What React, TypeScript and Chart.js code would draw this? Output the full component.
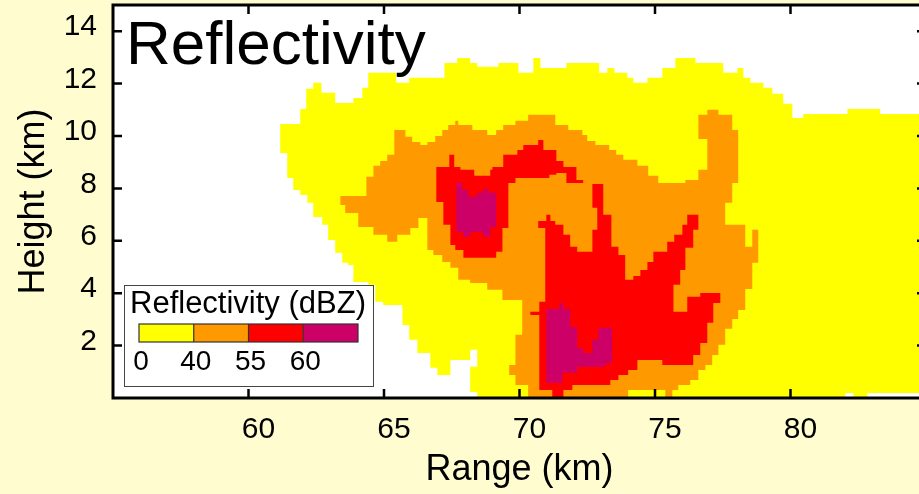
import React, { useEffect, useRef } from "react";
import { Chart, registerables } from "chart.js";

Chart.register(...registerables);

type Pt = [number, number];

const FONT = "'Liberation Sans', Arial, Helvetica, sans-serif";

// Axes
const rangeLimits = [55, 85];
const heightLimits = [0, 15];
const rangeTicks = [60, 65, 70, 75, 80];
const heightTicks = [2, 4, 6, 8, 10, 12, 14];

// Legend (lower bound of each reflectivity class, dBZ)
const levelLabels = ["0", "40", "55", "60"];
const levelColors = ["#FFFF00", "#FF9900", "#FF0000", "#CC0066"];

// Contour outlines [range km, height km]
const echo0dBZ: Pt[] = [
  [61.17, 10.46], [61.91, 10.46], [61.91, 11.03], [62.13, 11.03], [62.13, 11.8], [62.39, 11.8], [62.39, 12.03],
  [62.69, 12.03], [62.69, 11.65], [63.2, 11.65], [63.2, 11.26], [63.87, 11.26], [63.87, 11.45], [64.2, 11.45],
  [64.2, 11.84], [64.42, 11.84], [64.42, 12.41], [65.45, 12.41], [65.45, 12.03], [65.93, 12.03], [65.93, 12.22],
  [67.23, 12.22], [67.23, 12.79], [67.7, 12.79], [67.7, 12.98], [68.18, 12.98], [68.18, 12.79], [68.44, 12.79],
  [68.44, 12.64], [69.22, 12.64], [69.22, 12.79], [69.96, 12.79], [69.96, 12.41], [70.51, 12.41], [70.51, 12.98],
  [70.77, 12.98], [70.77, 12.6], [71.73, 12.6], [71.73, 12.79], [72.94, 12.79], [72.94, 12.41], [73.24, 12.41],
  [73.24, 12.6], [73.5, 12.6], [73.5, 12.41], [73.98, 12.41], [73.98, 12.22], [74.2, 12.22], [74.2, 12.03],
  [74.72, 12.03], [74.72, 12.22], [75.27, 12.22], [75.27, 12.6], [75.75, 12.6], [75.75, 12.98], [76.49, 12.98],
  [76.49, 12.79], [77.52, 12.79], [77.52, 12.41], [78.04, 12.41], [78.04, 12.6], [78.26, 12.6], [78.26, 12.22],
  [78.52, 12.22], [78.52, 12.03], [79.0, 12.03], [79.0, 11.84], [79.33, 11.84], [79.33, 11.61], [79.73, 11.61],
  [79.73, 11.23], [80.07, 11.23], [80.07, 10.69], [80.47, 10.69], [80.47, 10.84], [82.1, 10.84], [82.1, 11.03],
  [83.31, 11.03], [83.31, 10.84], [86, 10.84], [86, 0.19], [82.83, 0.19], [82.83, -0.5], [82.32, -0.5],
  [82.32, 0.19], [82.02, 0.19], [82.02, -0.5], [68.44, -0.5], [68.44, 0.23], [68.18, 0.23], [68.18, 1.19],
  [68.44, 1.19], [68.44, 1.84], [68.18, 1.84], [68.18, 1.45], [67.45, 1.45], [67.45, 0.88], [66.97, 0.88],
  [66.97, 1.15], [66.71, 1.15], [66.71, 1.72], [66.23, 1.72], [66.23, 2.22], [65.93, 2.22], [65.93, 2.79],
  [65.68, 2.79], [65.68, 3.55], [64.97, 3.55], [64.97, 3.67], [64.68, 3.67], [64.68, 4.32], [64.42, 4.32],
  [64.42, 4.43], [63.87, 4.43], [63.87, 5.08], [63.68, 5.08], [63.68, 5.16], [63.46, 5.16], [63.46, 5.54],
  [63.2, 5.54], [63.2, 6.03], [62.94, 6.03], [62.94, 6.61], [62.72, 6.61], [62.72, 6.91], [62.39, 6.91],
  [62.39, 7.45], [62.17, 7.45], [62.17, 7.75], [61.91, 7.75], [61.91, 7.94], [61.65, 7.94], [61.65, 8.4],
  [61.43, 8.4], [61.43, 9.35], [61.17, 9.35],
];

const echo40dBZ: Pt[] = [
  [63.39, 7.71], [64.35, 7.71], [64.35, 8.44], [64.61, 8.44], [64.61, 8.86], [64.86, 8.86], [64.86, 9.05],
  [65.12, 9.05], [65.12, 9.28], [65.38, 9.28], [65.38, 10.23], [65.79, 10.23], [65.79, 9.97], [66.04, 9.97],
  [66.04, 9.77], [66.34, 9.77], [66.34, 9.66], [66.6, 9.66], [66.6, 9.77], [66.89, 9.77], [66.89, 10.0],
  [67.15, 10.0], [67.15, 10.23], [67.37, 10.23], [67.37, 10.42], [67.63, 10.42], [67.63, 10.58], [67.74, 10.58],
  [67.74, 10.42], [68.26, 10.42], [68.26, 10.23], [68.81, 10.23], [68.81, 10.04], [69.14, 10.04], [69.14, 10.23],
  [69.4, 10.23], [69.4, 10.42], [69.85, 10.42], [69.85, 10.58], [70.32, 10.58], [70.32, 10.81], [71.32, 10.81],
  [71.32, 10.42], [71.8, 10.42], [71.8, 10.23], [72.32, 10.23], [72.32, 10.04], [72.5, 10.04], [72.5, 9.81],
  [72.8, 9.81], [72.8, 9.66], [73.31, 9.66], [73.31, 9.47], [73.57, 9.47], [73.57, 9.28], [73.83, 9.28],
  [73.83, 9.09], [74.35, 9.09], [74.35, 8.86], [74.75, 8.86], [74.75, 8.48], [75.12, 8.48], [75.12, 8.21],
  [76.12, 8.21], [76.12, 8.32], [76.6, 8.32], [76.6, 8.71], [76.93, 8.71], [76.93, 9.89], [76.6, 9.89],
  [76.6, 10.81], [76.93, 10.81], [76.93, 11.0], [77.34, 11.0], [77.34, 10.81], [77.85, 10.81], [77.85, 10.23],
  [78.07, 10.23], [78.07, 8.21], [77.85, 8.21], [77.85, 7.45], [77.59, 7.45], [77.59, 6.61], [78.33, 6.61],
  [78.33, 5.77], [78.59, 5.77], [78.59, 6.42], [78.81, 6.42], [78.81, 5.16], [78.59, 5.16], [78.59, 4.16],
  [78.33, 4.16], [78.33, 3.36], [78.07, 3.36], [78.07, 3.02], [77.85, 3.02], [77.85, 2.64], [77.59, 2.64],
  [77.59, 2.03], [77.34, 2.03], [77.34, 1.64], [77.11, 1.64], [77.11, 1.26], [76.86, 1.26], [76.86, 1.07],
  [76.6, 1.07], [76.6, 0.69], [76.3, 0.69], [76.3, 0.5], [75.86, 0.5], [75.86, 0.31], [75.64, 0.31],
  [75.64, -0.5], [75.38, -0.5], [75.38, 0.31], [74.01, 0.31], [74.01, -0.5], [70.32, -0.5], [70.32, 0.5],
  [69.85, 0.5], [69.85, 0.88], [69.62, 0.88], [69.62, 1.26], [69.85, 1.26], [69.85, 2.41], [70.1, 2.41],
  [70.1, 3.74], [69.37, 3.74], [69.37, 4.13], [68.81, 4.13], [68.81, 4.39], [68.18, 4.39], [68.18, 4.51],
  [67.74, 4.51], [67.74, 4.97], [67.45, 4.97], [67.45, 5.19], [67.15, 5.19], [67.15, 5.46], [66.82, 5.46],
  [66.82, 5.65], [66.6, 5.65], [66.6, 6.87], [66.27, 6.87], [66.27, 6.49], [65.97, 6.49], [65.97, 6.23],
  [65.49, 6.23], [65.49, 5.96], [65.12, 5.96], [65.12, 6.23], [64.61, 6.23], [64.61, 6.53], [64.05, 6.53],
  [64.05, 7.06], [63.57, 7.06], [63.57, 7.37], [63.39, 7.37],
];

const echo55dBZUpper: Pt[] = [
  [67.41, 9.28], [67.59, 9.28], [67.59, 8.82], [67.82, 8.82], [67.82, 8.71], [68.33, 8.71], [68.33, 8.48],
  [68.92, 8.48], [68.92, 8.71], [69.0, 8.71], [69.0, 8.82], [69.4, 8.82], [69.4, 9.28], [69.92, 9.28],
  [69.92, 9.47], [70.14, 9.47], [70.14, 9.66], [70.69, 9.66], [70.69, 9.85], [70.88, 9.85], [70.88, 9.47],
  [71.36, 9.47], [71.36, 9.05], [71.62, 9.05], [71.62, 8.82], [72.1, 8.82], [72.1, 8.32], [72.35, 8.32],
  [72.35, 8.21], [71.73, 8.21], [71.73, 8.59], [71.36, 8.59], [71.36, 8.52], [71.1, 8.52], [71.1, 8.4],
  [69.85, 8.4], [69.85, 8.21], [69.59, 8.21], [69.59, 6.49], [69.37, 6.49], [69.37, 5.58], [69.14, 5.58],
  [69.14, 5.35], [67.93, 5.35], [67.93, 5.65], [67.63, 5.65], [67.63, 5.84], [67.45, 5.84], [67.45, 6.61],
  [67.19, 6.61], [67.19, 7.48], [66.93, 7.48], [66.93, 8.82], [67.41, 8.82],
];

const echo55dBZLower: Pt[] = [
  [72.69, 8.17], [73.09, 8.17], [73.09, 6.99], [73.39, 6.99], [73.39, 5.77], [73.65, 5.77], [73.65, 5.46],
  [73.9, 5.46], [73.9, 4.51], [74.2, 4.51], [74.2, 4.66], [74.46, 4.66], [74.46, 4.89], [74.72, 4.89],
  [74.72, 5.19], [74.94, 5.19], [74.94, 5.58], [75.45, 5.58], [75.45, 5.96], [75.71, 5.96], [75.71, 6.23],
  [76.01, 6.23], [76.01, 6.61], [76.19, 6.61], [76.19, 6.99], [76.6, 6.99], [76.6, 6.42], [76.41, 6.42],
  [76.41, 5.73], [76.12, 5.73], [76.12, 4.89], [75.93, 4.89], [75.93, 4.32], [75.68, 4.32], [75.68, 3.29],
  [76.19, 3.29], [76.19, 3.86], [76.67, 3.86], [76.67, 4.01], [77.41, 4.01], [77.41, 3.63], [77.15, 3.63],
  [77.15, 2.87], [76.93, 2.87], [76.93, 2.1], [76.67, 2.1], [76.67, 1.64], [76.41, 1.64], [76.41, 1.26],
  [75.27, 1.26], [75.27, 1.45], [74.35, 1.45], [74.35, 1.07], [74.01, 1.07], [74.01, 0.88], [73.65, 0.88],
  [73.65, 0.69], [73.35, 0.69], [73.35, 0.5], [71.95, 0.5], [71.95, 0.31], [71.62, 0.31], [71.62, -0.5],
  [71.21, -0.5], [71.21, 0.31], [70.73, 0.31], [70.73, 3.17], [70.4, 3.17], [70.4, 3.29], [70.73, 3.29],
  [70.73, 3.67], [70.95, 3.67], [70.95, 6.49], [70.69, 6.49], [70.69, 6.76], [70.99, 6.76], [70.99, 6.99],
  [71.14, 6.99], [71.14, 6.76], [71.32, 6.76], [71.32, 6.61], [71.62, 6.61], [71.62, 6.23], [71.87, 6.23],
  [71.87, 5.77], [72.13, 5.77], [72.13, 5.58], [72.69, 5.58], [72.69, 6.42], [72.87, 6.42], [72.87, 7.26],
  [72.69, 7.26],
];

const echo60dBZUpper: Pt[] = [
  [67.67, 8.21], [67.89, 8.21], [67.89, 7.94], [68.11, 7.94], [68.11, 7.68], [68.44, 7.68], [68.44, 7.83],
  [68.66, 7.83], [68.66, 7.98], [68.85, 7.98], [68.85, 7.83], [69.14, 7.83], [69.14, 6.53], [68.92, 6.53],
  [68.92, 6.15], [68.66, 6.15], [68.66, 6.34], [68.18, 6.34], [68.18, 6.15], [67.93, 6.15], [67.93, 6.34],
  [67.67, 6.34],
];

const echo60dBZLower: Pt[] = [
  [70.99, 3.4], [71.47, 3.4], [71.47, 3.63], [71.62, 3.63], [71.62, 3.4], [71.87, 3.4], [71.87, 2.71],
  [72.13, 2.71], [72.13, 1.91], [72.35, 1.91], [72.35, 1.72], [72.69, 1.72], [72.69, 2.22], [72.91, 2.22],
  [72.91, 2.68], [73.42, 2.68], [73.42, 1.34], [73.17, 1.34], [73.17, 1.19], [72.13, 1.19], [72.13, 0.96],
  [71.58, 0.96], [71.58, 0.58], [70.99, 0.58],
];

const contours: { level: number; outline: Pt[] }[] = [
  { level: 0, outline: echo0dBZ },
  { level: 1, outline: echo40dBZ },
  { level: 2, outline: echo55dBZUpper },
  { level: 2, outline: echo55dBZLower },
  { level: 3, outline: echo60dBZUpper },
  { level: 3, outline: echo60dBZLower },
];

const decorPlugin = {
  id: "decor",
  beforeDatasetsDraw(chart: any) {
    const { ctx, chartArea: a } = chart;
    ctx.save();
    ctx.fillStyle = "#ffffff";
    ctx.fillRect(a.left, a.top, a.right - a.left, a.bottom - a.top);
    ctx.restore();
  },
  afterDatasetsDraw(chart: any) {
    const { ctx, chartArea: a, scales } = chart;
    ctx.save();
    ctx.strokeStyle = "#000";
    ctx.lineWidth = 3;
    ctx.strokeRect(a.left, a.top, a.right - a.left, a.bottom - a.top);
    ctx.lineWidth = 2.5;
    ctx.beginPath();
    for (const v of rangeTicks) {
      const px = scales.x.getPixelForValue(v);
      ctx.moveTo(px, a.bottom);
      ctx.lineTo(px, a.bottom - 9);
      ctx.moveTo(px, a.top);
      ctx.lineTo(px, a.top + 9);
    }
    for (const v of heightTicks) {
      const py = scales.y.getPixelForValue(v);
      ctx.moveTo(a.left, py);
      ctx.lineTo(a.left + 9, py);
      ctx.moveTo(a.right, py);
      ctx.lineTo(a.right - 9, py);
    }
    ctx.stroke();
    ctx.restore();
  },
  afterDraw(chart: any) {
    const { ctx, chartArea: a } = chart;
    ctx.save();
    // panel title
    ctx.fillStyle = "#000";
    ctx.font = `62px ${FONT}`;
    ctx.textAlign = "left";
    ctx.textBaseline = "alphabetic";
    ctx.fillText("Reflectivity", a.left + 13, a.top + 59);

    // colour-bar legend
    const bx = a.left + 11;
    const by = a.bottom - 113;
    const bw = 250;
    const bh = 102;
    ctx.fillStyle = "#ffffff";
    ctx.fillRect(bx, by, bw, bh);
    ctx.strokeStyle = "#444";
    ctx.lineWidth = 1;
    ctx.strokeRect(bx + 0.5, by + 0.5, bw - 1, bh - 1);

    ctx.fillStyle = "#000";
    ctx.font = `31px ${FONT}`;
    ctx.fillText("Reflectivity (dBZ)", bx + 6, by + 28);

    const cx = bx + 15;
    const cy = by + 39;
    const cw = 219;
    const ch = 18;
    const segW = cw / levelColors.length;
    levelColors.forEach((c, i) => {
      ctx.fillStyle = c;
      ctx.fillRect(cx + i * segW, cy, segW, ch);
    });
    ctx.strokeStyle = "#333";
    ctx.lineWidth = 1.2;
    ctx.strokeRect(cx, cy, cw, ch);
    ctx.beginPath();
    for (let i = 1; i < levelColors.length; i++) {
      ctx.moveTo(cx + i * segW, cy);
      ctx.lineTo(cx + i * segW, cy + ch);
    }
    ctx.stroke();

    ctx.fillStyle = "#000";
    ctx.font = `28px ${FONT}`;
    ctx.textAlign = "center";
    levelLabels.forEach((t, i) => {
      ctx.fillText(t, cx + i * segW + 2, by + 85);
    });
    ctx.restore();
  },
};

export default function App() {
  const canvasRef = useRef<HTMLCanvasElement | null>(null);

  useEffect(() => {
    const canvas = canvasRef.current;
    if (!canvas) return;

    const datasets = contours.map((c) => ({
      data: [...c.outline, c.outline[0]].map(([x, y]) => ({ x, y })),
      fill: "shape",
      backgroundColor: levelColors[c.level],
      borderColor: levelColors[c.level],
      borderWidth: 0,
      pointRadius: 0,
      tension: 0,
      order: 10 - c.level,
    }));

    const chart = new Chart(canvas, {
      type: "line",
      data: { datasets } as any,
      options: {
        responsive: false,
        animation: false,
        events: [],
        layout: { padding: { left: 0, right: 2, top: 5, bottom: 0 } },
        plugins: {
          legend: { display: false },
          tooltip: { enabled: false },
          title: { display: false },
        },
        scales: {
          x: {
            type: "linear",
            min: rangeLimits[0],
            max: rangeLimits[1],
            afterBuildTicks: (s: any) => {
              s.ticks = rangeTicks.map((v) => ({ value: v }));
            },
            afterFit: (s: any) => {
              s.height = 96;
              s.paddingLeft = 0;
              s.paddingRight = 0;
            },
            grid: { display: false, drawTicks: false },
            border: { display: false },
            ticks: {
              autoSkip: false,
              maxRotation: 0,
              padding: 14,
              labelOffset: 10,
              color: "#000",
              font: { family: FONT, size: 30 },
            },
            title: {
              display: true,
              text: "Range (km)",
              color: "#000",
              font: { family: FONT, size: 36 },
              padding: { top: 0, bottom: 2 },
            },
          },
          y: {
            type: "linear",
            min: heightLimits[0],
            max: heightLimits[1],
            afterBuildTicks: (s: any) => {
              s.ticks = heightTicks.map((v) => ({ value: v }));
            },
            afterFit: (s: any) => {
              s.width = 113;
              s.paddingTop = 0;
              s.paddingBottom = 0;
            },
            grid: { display: false, drawTicks: false },
            border: { display: false },
            ticks: {
              autoSkip: false,
              padding: 16,
              labelOffset: -4,
              color: "#000",
              font: { family: FONT, size: 30 },
            },
            title: {
              display: true,
              text: "Height (km)",
              color: "#000",
              font: { family: FONT, size: 36 },
              padding: { top: 12, bottom: 0 },
            },
          },
        },
      } as any,
      plugins: [decorPlugin],
    });

    return () => chart.destroy();
  }, []);

  return (
    <div
      style={{
        position: "fixed",
        left: 0,
        top: 0,
        width: 919,
        height: 494,
        overflow: "hidden",
        background: "#FFFDD0",
      }}
    >
      <canvas ref={canvasRef} width={928} height={494} style={{ display: "block" }} />
    </div>
  );
}
